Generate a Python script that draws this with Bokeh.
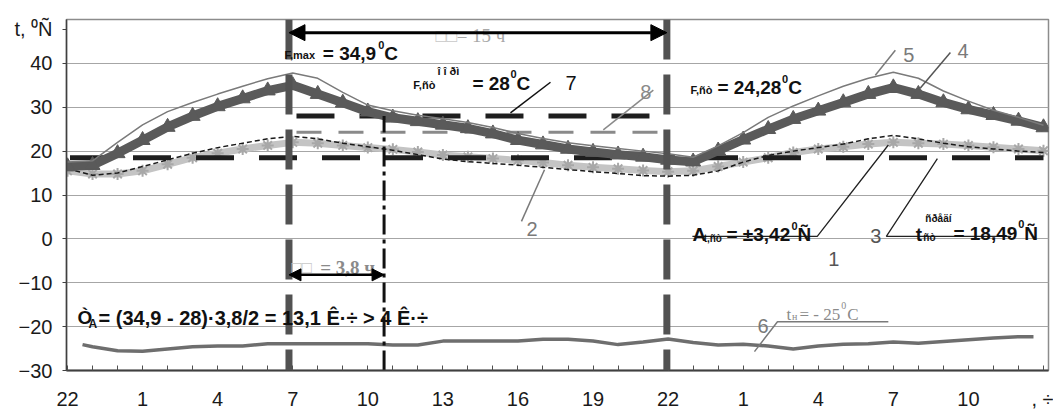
from bokeh.plotting import figure
from bokeh.models import Range1d, FixedTicker, Span, Arrow, NormalHead, Label
from bokeh.embed import file_html
from bokeh.resources import INLINE

# ---------------- data ----------------
# hour index counted from 22:00 of the first day
hours = list(range(40))
tick_hours = list(range(0, 40, 3))
tick_labels = ["22", "1", "4", "7", "10", "13", "16", "19", "22", "1", "4", "7", "10", ", ÷"]
y_ticks = [-30, -20, -10, 0, 10, 20, 30, 40]
y_title = "t, ⁰Ñ"

# 1 - dashed thin black curve
s1 = [16.0, 14.5, 15.0, 16.5, 18.0, 19.5, 20.8, 21.8, 22.8, 23.4,
      22.8, 21.8, 21.0, 20.2, 19.2, 18.2, 17.6, 17.2, 16.8, 16.3,
      15.8, 15.3, 14.9, 14.4, 14.3, 14.5, 15.5, 17.5, 19.0, 20.0,
      20.8, 21.6, 22.8, 23.6, 22.8, 21.8, 21.0, 20.5, 20.0, 19.7]
# 2 - light grey curve with star markers
s2 = [15.5, 14.8, 14.8, 15.5, 17.0, 18.5, 19.5, 20.5, 21.3, 22.0,
      21.8, 21.3, 20.8, 20.4, 19.8, 19.1, 18.7, 18.3, 17.9, 17.4,
      16.8, 16.3, 16.0, 15.6, 15.3, 15.5, 16.5, 17.5, 18.5, 19.7,
      20.5, 21.0, 21.6, 22.0, 21.8, 21.6, 21.3, 20.9, 20.5, 20.1]
# 3 - mean room temperature
t_mean = 18.49
# 4 - dark grey curve with triangle markers
s4 = [16.5, 16.8, 19.5, 22.5, 25.5, 28.0, 30.2, 32.0, 33.8, 35.0,
      33.0, 31.0, 29.0, 27.6, 26.8, 26.0, 25.2, 24.0, 22.5, 21.5,
      20.5, 19.8, 19.2, 18.7, 18.0, 17.6, 20.1, 22.6, 25.0, 27.3,
      29.2, 31.1, 33.0, 34.5, 33.0, 31.1, 29.5, 28.2, 26.9, 25.4]
# 5 - thin grey curve
s5 = [17.5, 17.8, 22.0, 26.0, 29.0, 31.1, 33.0, 34.8, 36.5, 37.8,
      36.6, 33.4, 30.5, 29.2, 28.2, 27.4, 26.5, 25.4, 24.0, 22.9,
      21.9, 21.2, 20.6, 20.0, 19.4, 18.6, 21.2, 24.2, 27.7, 30.3,
      32.6, 34.8, 36.6, 38.0, 36.6, 33.7, 31.4, 29.3, 27.7, 25.9]
# 6 - outdoor temperature
hours6 = [0.6, 1, 2, 3, 4, 5, 6, 7, 8, 9, 10, 11, 12, 13, 14, 15, 16, 17, 18, 19,
          20, 21, 22, 23, 24, 25, 26, 27, 28, 29, 30, 31, 32, 33, 34, 35, 36, 37, 38, 38.6]
s6 = [-24.1, -24.6, -25.5, -25.6, -25.1, -24.6, -24.4, -24.4, -23.9, -23.9,
      -23.9, -23.9, -23.9, -24.2, -24.2, -23.3, -23.3, -23.3, -23.3, -22.9,
      -22.9, -23.3, -24.1, -23.5, -22.8, -23.6, -24.2, -24.0, -24.4, -25.1,
      -24.4, -24.0, -23.9, -23.5, -23.8, -23.4, -23.0, -22.6, -22.3, -22.3]
# 7 - allowed maximum, 8 - mean over the period
t_norm = 28.0
span7 = [9.15, 23.35]
t_period = 24.28
span8 = [9.15, 23.6]
# vertical markers: 7:00 start, +3.8 h, 22:00 end
marker_hours = [8.85, 12.65, 23.95]

# ---------------- figure ----------------
Y_MIN, Y_MAX = -30, 50
p = figure(width=1053, height=412, x_range=Range1d(-0.04, 39.2), y_range=Range1d(Y_MIN, Y_MAX),
           output_backend="svg", toolbar_location=None,
           min_border_left=66, min_border_right=5, min_border_top=19, min_border_bottom=40)
p.background_fill_color = "white"
p.border_fill_color = "white"
p.outline_line_color = "#8c8c8c"
p.outline_line_width = 1.5

p.xgrid.grid_line_color = None
p.ygrid.ticker = FixedTicker(ticks=y_ticks)
p.ygrid.grid_line_color = "#a6a6a6"
p.ygrid.grid_line_width = 1

xa = p.xaxis[0]
xa.ticker = FixedTicker(ticks=hours)
overrides = {h: "" for h in hours}
for h, lab in zip(tick_hours, tick_labels):
    overrides[h] = lab
xa.major_label_overrides = overrides
xa.major_tick_in = 5
xa.major_tick_out = 0
xa.minor_tick_line_color = None
xa.axis_line_color = "#404040"
xa.axis_line_width = 2
xa.major_tick_line_color = "#505050"
xa.major_label_text_font = "Liberation Sans"
xa.major_label_text_font_size = "20px"
xa.major_label_text_color = "#1a1a1a"
xa.major_label_standoff = 17

TITLE_TICK = 47.8  # where the axis title sits, just under the top edge
ya = p.yaxis[0]
ya.ticker = FixedTicker(ticks=y_ticks + [TITLE_TICK])
ya.major_label_overrides = {TITLE_TICK: y_title}
ya.major_tick_in = 0
ya.major_tick_out = 4
ya.minor_tick_line_color = None
ya.axis_line_color = "#404040"
ya.axis_line_width = 1.5
ya.major_tick_line_color = "#404040"
ya.major_label_text_font = "Liberation Sans"
ya.major_label_text_font_size = "20px"
ya.major_label_text_color = "#1a1a1a"
ya.major_label_standoff = 10

# ---------------- series ----------------
p.line(hours6, s6, line_color="#6e6e6e", line_width=3.5)

p.line(hours, s2, line_color="#c4c4c4", line_width=7)
p.scatter(hours, s2, marker="asterisk", size=12, line_color="#a8a8a8", line_width=2)
p.line(hours, s1, line_color="#1a1a1a", line_width=1.5, line_dash="5 3")

p.line([hours[0] + 0.1, hours[-1]], [t_mean, t_mean], line_color="#1e1e1e", line_width=5, line_dash="38 25")
p.line(span8, [t_period, t_period], line_color="#8a8a8a", line_width=3, line_dash="25 17")
p.line(span7, [t_norm, t_norm], line_color="#1e1e1e", line_width=5, line_dash="38 25")

p.line(hours, s4, line_color="#5a5a5a", line_width=9)
p.scatter(hours, s4, marker="triangle", size=15, fill_color="#5a5a5a", line_color="#5a5a5a")
p.line(hours, s5, line_color="#7a7a7a", line_width=1.5)

# vertical markers
p.add_layout(Span(location=marker_hours[0], dimension="height", line_color="#525252",
                  line_width=7, line_dash="40 15"))
p.add_layout(Span(location=marker_hours[2], dimension="height", line_color="#525252",
                  line_width=7, line_dash="40 15"))
p.line([marker_hours[1], marker_hours[1]], [Y_MIN, t_norm], line_color="#111111",
       line_width=3, line_dash="20 5 4 5")

# leader lines
def leader(xs, ys, color, w=1.5):
    p.line(xs, ys, line_color=color, line_width=w)

leader([19.3, 17.7], [35.7, 28.7], "#111111")          # 7
leader([23.41, 21.41], [33.9, 24.84], "#8a8a8a")       # 8
leader([33.08, 32.28], [42.97, 37.3], "#7a7a7a")       # 5
leader([35.28, 34.08], [42.5, 34.4], "#555555")        # 4
leader([18.14, 19.06], [3.99, 15.77], "#7a7a7a")       # 2
leader([24.97, 29.96, 32.8], [0.59, 0.59, 21.4], "#222222", 1.3)   # 1
leader([37.71, 32.72, 34.76], [0.59, 0.59, 18.27], "#222222", 1.3)  # 3
leader([27.45, 28.37, 32.8], [-25.7, -18.9, -18.9], "#7a7a7a")      # 6

# ---------------- texts ----------------
def txt(x, y, s, size=19, bold=True, color="#111111", font="Liberation Sans"):
    p.add_layout(Label(x=x, y=y, text=s, text_font=font, text_font_size=f"{size}px",
                       text_font_style="bold" if bold else "normal", text_color=color,
                       text_baseline="alphabetic", text_align="left"))

# t F,max
txt(8.67, 41.8, "F,max", 11)
txt(10.2, 42.3, "= 34,9", 19)
txt(12.42, 44.2, "0", 11)
txt(12.66, 42.3, "C", 19)

# 15 h
txt(14.7, 46.3, "□□", 18, bold=False, color="#c8c8c8", font="Liberation Serif")
txt(15.55, 46.3, "= 15 ч", 19, bold=False, color="#a8a8a8", font="Liberation Serif")

# t norm
txt(13.82, 35.0, "F,ñò", 11)
txt(14.78, 38.2, "î î ðì", 11)
txt(16.18, 35.5, "= 28", 19)
txt(17.7, 37.5, "0", 11)
txt(17.94, 35.5, "C", 19)

# series numbers
txt(19.9, 35.5, "7", 20, bold=False, color="#111111")
txt(22.89, 33.4, "8", 20, bold=False, color="#8a8a8a")
txt(33.4, 41.8, "5", 20, bold=False, color="#7a7a7a")
txt(35.56, 42.9, "4", 20, bold=False, color="#7a7a7a")
txt(18.34, 2.2, "2", 20, bold=False, color="#7a7a7a")
txt(30.4, -4.6, "1", 20, bold=False, color="#555555")
txt(32.08, 0.6, "3", 20, bold=False, color="#555555")
txt(27.57, -19.8, "6", 20, bold=False, color="#7a7a7a")

# t F,period
txt(24.89, 33.9, "F,ñò", 11)
txt(25.97, 34.6, "= 24,28", 19)
txt(28.55, 36.4, "0", 11)
txt(28.8, 34.6, "C", 19)

# amplitude
txt(24.97, 0.9, "A", 19)
txt(25.42, 0.15, "t,ñò", 10)
txt(26.33, 0.9, "= ±3,42", 19)
txt(28.93, 2.9, "0", 11)
txt(29.17, 0.9, "Ñ", 19)

# mean
txt(33.9, 1.1, "t", 19)
txt(34.2, 0.2, "ñò", 10)
txt(34.28, 4.7, "ñðåäí", 10)
txt(35.4, 1.3, "= 18,49", 19)
txt(37.99, 3.3, "0", 11)
txt(38.23, 1.3, "Ñ", 19)

# outdoor
txt(28.73, -17.3, "t", 17, bold=False, color="#8a8a8a", font="Liberation Serif")
txt(28.95, -17.8, "н", 10, bold=False, color="#8a8a8a", font="Liberation Serif")
txt(29.25, -17.3, "= - 25", 17, bold=False, color="#8a8a8a", font="Liberation Serif")
txt(30.92, -15.1, "0", 10, bold=False, color="#8a8a8a", font="Liberation Serif")
txt(31.16, -17.3, "C", 17, bold=False, color="#8a8a8a", font="Liberation Serif")

# 3.8 h
txt(8.95, -6.6, "□□", 17, bold=False, color="#c8c8c8", font="Liberation Serif")
txt(10.1, -6.6, "= 3,8 ч", 19, bold=True, color="#8a8a8a", font="Liberation Serif")

# overheating
txt(0.4, -18.0, "Ò", 19)
txt(0.84, -19.4, "A", 12)
txt(1.24, -18.0, "= (34,9 - 28)·3,8/2 = 13,1 Ê·÷ > 4 Ê·÷", 20)

# arrows (drawn last, over the texts)
p.add_layout(Arrow(start=NormalHead(size=16, fill_color="black", line_color="black"),
                   end=NormalHead(size=16, fill_color="black", line_color="black"),
                   x_start=marker_hours[0], y_start=47.0, x_end=marker_hours[2], y_end=47.0,
                   line_width=3, line_color="black"))
p.add_layout(Arrow(start=NormalHead(size=12, fill_color="black", line_color="black"),
                   end=NormalHead(size=12, fill_color="black", line_color="black"),
                   x_start=marker_hours[0], y_start=-8.2, x_end=marker_hours[1], y_end=-8.2,
                   line_width=2.5, line_color="black"))

open("out.html", "w").write(file_html(p, INLINE))
